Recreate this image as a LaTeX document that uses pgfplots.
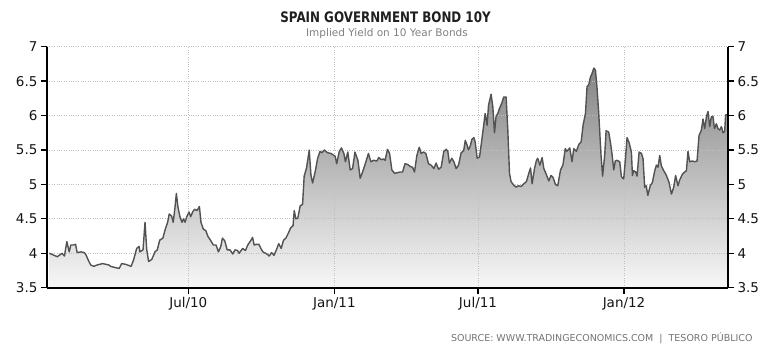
\documentclass[border=0pt]{standalone}
\usepackage{fontspec}
\setmainfont{DejaVu Sans}
\newfontfamily\titlefont{DejaVu Sans}[FakeStretch=0.82]
\usepackage{pgfplots}
\usepackage{pgfplotstable}
\pgfplotsset{compat=1.18}

\pgfplotstableread{
day y
6 4.0
10 3.98
16 3.95
22 4.0
25 3.96
28 4.17
31 4.02
33 4.12
36 4.12
39 4.13
41 4.01
46 4.02
50 4.01
52 3.98
55 3.9
58 3.83
62 3.81
66 3.83
73 3.85
77 3.84
81 3.83
83 3.81
90 3.79
94 3.78
97 3.85
102 3.84
109 3.81
112 3.9
116 4.07
119 4.1
120 4.02
124 4.05
126.5 4.45
128.6 4.06
131 3.88
135 3.91
139 4.02
142 4.05
145 4.19
149 4.22
152 4.35
155 4.45
157 4.57
160 4.54
162 4.45
164 4.64
166 4.87
168 4.67
170.5 4.53
173 4.45
175 4.5
177 4.45
179 4.53
182 4.6
184 4.53
186.5 4.6
189 4.64
192 4.62
195 4.68
197 4.45
200 4.35
203 4.33
206 4.24
209 4.19
212.5 4.12
216 4.12
219 4.02
222 4.1
224 4.22
227 4.18
230 4.05
233.5 4.05
237 3.99
240 4.05
243 4.04
245 4.0
249.5 4.07
253 4.04
256 4.12
260 4.19
262 4.23
264 4.12
267 4.13
270 4.13
272.5 4.07
275 4.02
280 3.99
283 3.96
286 4.01
289 3.97
292 4.05
295 4.14
298 4.07
301 4.19
304 4.22
307 4.29
310 4.37
313 4.40
314.5 4.62
316.6 4.5
319 4.51
322 4.69
325 4.71
327 5.12
330 5.24
333.4 5.5
335.5 5.14
337.6 5.02
341 5.19
344 5.38
347 5.48
349.4 5.46
352.3 5.5
356.5 5.46
360.7 5.45
366 5.41
368 5.3
371 5.47
374 5.53
377 5.45
379 5.33
382 5.47
385 5.21
388 5.23
391 5.47
394.7 5.35
397.6 5.09
400.6 5.18
404 5.3
408 5.45
411 5.33
414.5 5.35
418.6 5.34
421 5.39
424 5.36
427 5.37
429 5.35
432 5.51
434.6 5.45
437.5 5.21
441 5.16
444 5.17
448 5.18
451 5.18
454 5.3
457.6 5.29
460.5 5.26
463.6 5.25
466 5.18
469 5.42
472 5.54
474.4 5.45
477.4 5.47
480.3 5.45
483.7 5.3
487 5.28
490.4 5.23
493.3 5.31
496.3 5.22
499.6 5.25
503 5.48
506 5.51
508 5.48
510 5.31
513 5.38
515.6 5.33
518.5 5.23
521.5 5.28
524.8 5.46
528 5.49
530 5.64
532.3 5.57
534 5.5
536.6 5.57
538.2 5.65
540.8 5.68
542.4 5.62
545 5.38
548 5.4
551 5.66
553 5.84
555 6.03
557.5 5.86
559.3 6.15
562.5 6.31
564.7 6.13
566.8 5.75
568.8 5.99
571 6.03
573 6.1
576 6.18
578.5 6.27
581.4 6.27
583.6 5.79
585.7 5.16
587.7 5.04
591 4.99
594 4.96
597 4.98
600.3 4.97
603.7 5.01
607 5.04
610 5.16
612.2 5.24
614.2 5.01
617.2 5.23
619.7 5.35
621.3 5.38
624 5.28
626.8 5.39
629 5.23
632.3 5.14
635.2 5.05
638 5.13
640.6 5.1
643.6 5.0
646.5 4.98
650 5.21
653 5.28
656 5.52
658 5.48
661.6 5.53
664.5 5.33
666.7 5.52
670 5.48
673 5.58
676 5.62
678.4 5.86
681.4 6.03
683.4 6.42
685.6 6.45
687.7 6.56
689.7 6.61
692 6.69
694 6.66
696 6.4
698 6.06
701 5.43
703 5.12
705.7 5.43
707.4 5.78
710.7 5.76
713 5.6
715 5.43
717 5.21
719 5.34
721 5.35
724.6 5.33
726.7 5.11
729.6 5.08
732 5.4
733.8 5.68
736.3 5.61
739.3 5.47
740.6 5.13
742.2 5.2
744.7 5.18
746.4 5.12
749 5.47
752 5.45
754 5.37
756 4.96
758 4.98
760 4.84
763 4.98
765.8 5.03
768.7 5.2
770.8 5.28
772.8 5.25
775 5.42
777 5.27
780 5.2
783.4 5.13
786.7 5.03
789.7 4.86
792.6 4.96
795 5.13
798 4.98
800 5.06
803.6 5.15
806.4 5.18
808.6 5.2
810.6 5.48
812.7 5.33
816 5.34
819 5.33
822 5.34
824.5 5.71
827.5 5.79
829.5 5.95
831.6 5.81
833.8 5.98
835.8 6.06
838 5.84
840 5.98
842 5.99
844 5.81
846.4 5.88
848.4 5.81
850.5 5.79
852.7 5.84
854.7 5.75
856.8 5.77
858 6.01
859.7 6.01
}\bond

\begin{document}
\begin{tikzpicture}[x=1pt,y=1pt]
\begin{axis}[
  set layers=standard,
  at={(47pt,68.3pt)}, anchor=south west,
  scale only axis, width=681pt, height=241pt,
  xmin=3, xmax=861, ymin=3.5, ymax=7,
  axis x line*=bottom, axis y line*=left,
  xtick={181,365,546,730}, xticklabels={Jul/10,Jan/11,Jul/11,Jan/12},
  ytick={3.5,4,4.5,5,5.5,6,6.5,7},
  tick align=outside, major tick length=6pt,
  grid=major, grid style={dotted, black!25, line width=0.7pt},
  axis line style={line width=1.8pt, black},
  every tick/.style={black, line width=1.3pt},
  tick label style={font=\fontsize{13.5}{16}\selectfont, text=black!92},
  /pgf/number format/assume math mode=true,
]
\addplot[draw=none, top color=black!48, bottom color=black!3, on layer=axis background] table[x=day,y=y] {\bond} \closedcycle;
\addplot[line width=1.4pt, color=black!68, line join=round] table[x=day,y=y] {\bond};
\end{axis}
\begin{axis}[
  at={(47pt,68.3pt)}, anchor=south west,
  scale only axis, width=681pt, height=241pt,
  xmin=3, xmax=861, ymin=3.5, ymax=7,
  axis x line=none, axis y line*=right,
  ytick={3.5,4,4.5,5,5.5,6,6.5,7},
  tick align=outside, major tick length=6pt,
  axis line style={line width=1.8pt, black},
  every tick/.style={black, line width=1.3pt},
  tick label style={font=\fontsize{13.5}{16}\selectfont, text=black!92},
  /pgf/number format/assume math mode=true,
]
\addplot[draw=none] table[x=day,y=y] {\bond};
\end{axis}
\node[font=\titlefont\bfseries\fontsize{14.5}{17}\selectfont, text=black!88] at (385.5,338.5) {SPAIN GOVERNMENT BOND 10Y};
\node[font=\fontsize{10.5}{12}\selectfont, text=black!50] at (387,322.5) {Implied Yield on 10 Year Bonds};
\node[font=\fontsize{9.5}{11}\selectfont, text=black!55, anchor=east] at (756,18) {SOURCE:\ WWW.TRADINGECONOMICS.COM \ |\ \ TESORO\ PÚBLICO};
\path (0,0) rectangle (774,356);
\end{tikzpicture}
\end{document}
